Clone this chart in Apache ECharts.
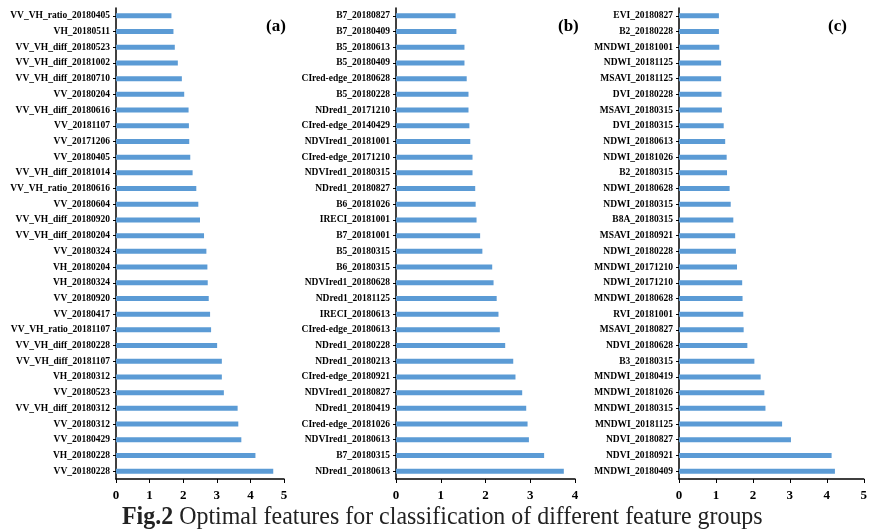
<!DOCTYPE html>
<html>
<head>
<meta charset="utf-8">
<script src="https://cdn.jsdelivr.net/npm/echarts@6/dist/echarts.min.js"></script>
<style>
  html, body { margin: 0; padding: 0; background: #fff; }
  #main { width: 870px; height: 531px; }
</style>
</head>
<body>
<div id="main"></div>
<script>
// (a) SAR features, top to bottom
var namesA = ['VV_VH_ratio_20180405','VH_20180511','VV_VH_diff_20180523','VV_VH_diff_20181002','VV_VH_diff_20180710',
  'VV_20180204','VV_VH_diff_20180616','VV_20181107','VV_20171206','VV_20180405','VV_VH_diff_20181014',
  'VV_VH_ratio_20180616','VV_20180604','VV_VH_diff_20180920','VV_VH_diff_20180204','VV_20180324','VH_20180204',
  'VH_20180324','VV_20180920','VV_20180417','VV_VH_ratio_20181107','VV_VH_diff_20180228','VV_VH_diff_20181107',
  'VH_20180312','VV_20180523','VV_VH_diff_20180312','VV_20180312','VV_20180429','VH_20180228','VV_20180228'];
var valsA = [1.65,1.71,1.75,1.84,1.96,2.03,2.16,2.17,2.18,2.21,2.28,2.39,2.45,2.50,2.62,
  2.69,2.72,2.73,2.76,2.80,2.83,3.01,3.15,3.15,3.21,3.62,3.64,3.73,4.15,4.68];

// (b) red-edge features
var namesB = ['B7_20180827','B7_20180409','B5_20180613','B5_20180409','CIred-edge_20180628','B5_20180228',
  'NDred1_20171210','CIred-edge_20140429','NDVIred1_20181001','CIred-edge_20171210','NDVIred1_20180315',
  'NDred1_20180827','B6_20181026','IRECI_20181001','B7_20181001','B5_20180315','B6_20180315',
  'NDVIred1_20180628','NDred1_20181125','IRECI_20180613','CIred-edge_20180613','NDred1_20180228',
  'NDred1_20180213','CIred-edge_20180921','NDVIred1_20180827','NDred1_20180419','CIred-edge_20181026',
  'NDVIred1_20180613','B7_20180315','NDred1_20180613'];
var valsB = [1.33,1.35,1.53,1.53,1.58,1.62,1.62,1.64,1.66,1.71,1.71,1.77,1.78,1.80,1.88,
  1.93,2.15,2.18,2.25,2.29,2.32,2.44,2.62,2.67,2.82,2.91,2.94,2.97,3.31,3.75];

// (c) spectral / index features
var namesC = ['EVI_20180827','B2_20180228','MNDWI_20181001','NDWI_20181125','MSAVI_20181125','DVI_20180228',
  'MSAVI_20180315','DVI_20180315','NDWI_20180613','NDWI_20181026','B2_20180315','NDWI_20180628',
  'NDWI_20180315','B8A_20180315','MSAVI_20180921','NDWI_20180228','MNDWI_20171210','NDWI_20171210',
  'MNDWI_20180628','RVI_20181001','MSAVI_20180827','NDVI_20180628','B3_20180315','MNDWI_20180419',
  'MNDWI_20181026','MNDWI_20180315','MNDWI_20181125','NDVI_20180827','NDVI_20180921','MNDWI_20180409'];
var valsC = [1.08,1.08,1.09,1.14,1.14,1.15,1.16,1.21,1.25,1.29,1.30,1.37,1.40,1.47,1.52,
  1.54,1.57,1.71,1.72,1.74,1.75,1.85,2.04,2.21,2.31,2.34,2.79,3.03,4.13,4.22];

var panelLabels = ['(a)', '(b)', '(c)'];
var xMax = [5, 4, 5];

var serif = '"Times New Roman", "Liberation Serif", serif';
var barColor = '#5b9bd5';

var chart = echarts.init(document.getElementById('main'));

var grids = [
  {left: 116, top: 8, width: 168, height: 471},
  {left: 396, top: 8, width: 179, height: 471},
  {left: 679, top: 8, width: 189, height: 471}
];
var names = [namesA, namesB, namesC];
var vals = [valsA, valsB, valsC];

var xAxes = [], yAxes = [], series = [], graphics = [];
for (var i = 0; i < 3; i++) {
  xAxes.push({
    gridIndex: i,
    type: 'value',
    min: 0,
    max: xMax[i],
    interval: 1,
    splitLine: {show: false},
    axisLine: {show: true, lineStyle: {color: '#000', width: 1.5}},
    axisTick: {show: true, length: 4, lineStyle: {color: '#000'}},
    axisLabel: {color: '#000', fontFamily: serif, fontWeight: 'bold', fontSize: 13, margin: 10}
  });
  yAxes.push({
    gridIndex: i,
    type: 'category',
    inverse: true,
    data: names[i],
    axisLine: {show: true, lineStyle: {color: '#000', width: 1.5}},
    axisTick: {show: true, length: 3, alignWithLabel: true, lineStyle: {color: '#000'}},
    axisLabel: {color: '#000', fontFamily: serif, fontWeight: 'bold', fontSize: 9.5, margin: 6, interval: 0}
  });
  series.push({
    type: 'bar',
    xAxisIndex: i,
    yAxisIndex: i,
    data: vals[i],
    barWidth: 5,
    itemStyle: {color: barColor}
  });
}

var labelX = [266, 558, 828];
for (var k = 0; k < 3; k++) {
  graphics.push({type: 'text', left: labelX[k], top: 18,
    style: {text: panelLabels[k], font: 'bold 17px ' + serif, fill: '#000'}});
}

// figure caption, slightly condensed like the source image
graphics.push({
  type: 'text',
  x: 122,
  y: 505,
  scaleX: 0.957,
  style: {
    x: 0, y: 0,
    align: 'left',
    verticalAlign: 'top',
    text: '{b|Fig.2\u00a0}{n|Optimal features for classification of different feature groups}',
    rich: {
      b: {fontFamily: serif, fontWeight: 'bold', fontSize: 25, fill: '#222'},
      n: {fontFamily: serif, fontWeight: 'normal', fontSize: 25, fill: '#222'}
    }
  }
});

var option = {
  backgroundColor: '#fff',
  animation: false,
  grid: grids,
  xAxis: xAxes,
  yAxis: yAxes,
  series: series,
  graphic: graphics
};
chart.setOption(option);
</script>
</body>
</html>
